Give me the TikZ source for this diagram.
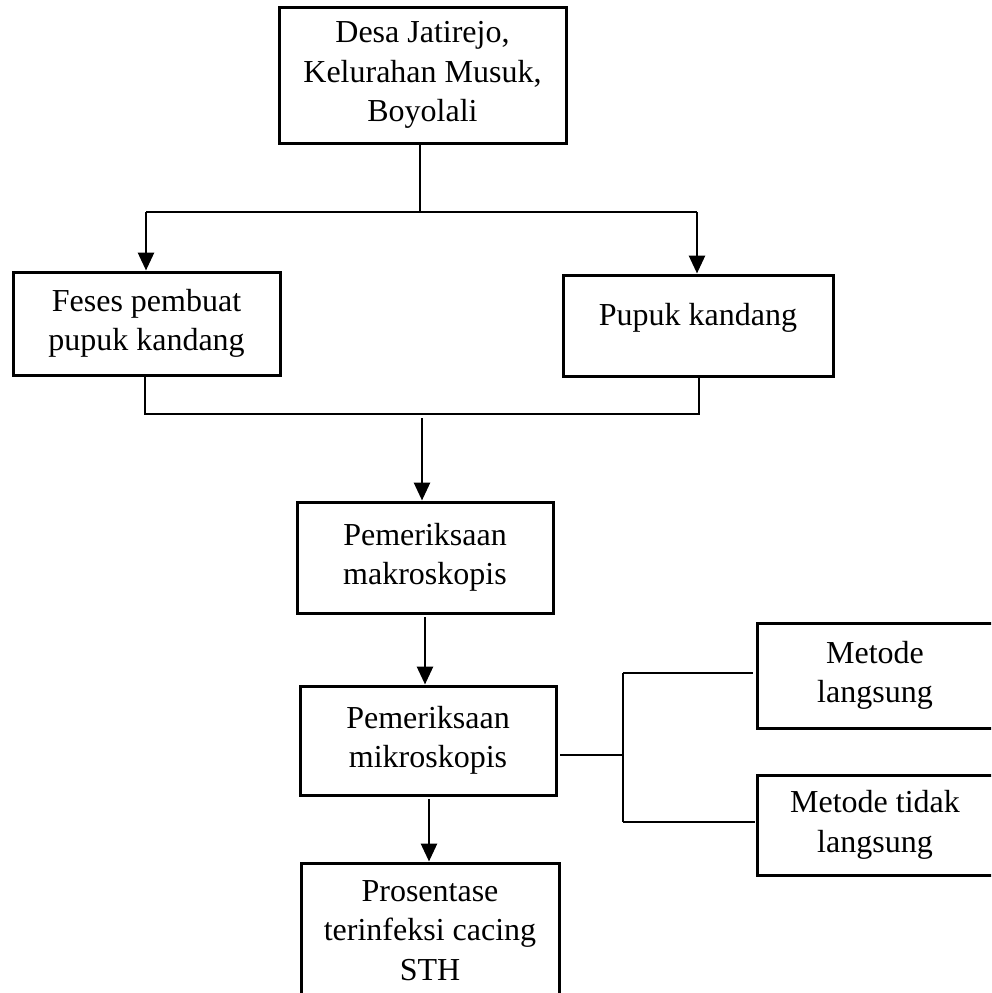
\documentclass[tikz,border=0pt]{standalone}
\usepackage{fontspec}
\setmainfont{Liberation Serif}
\usetikzlibrary{arrows.meta}
\begin{document}
\begin{tikzpicture}[x=1pt,y=-1pt,
  box/.style={draw,line width=3pt,inner sep=0pt,align=center,
    font=\fontsize{32}{39.5}\selectfont},
  conn/.style={line width=1.8pt},
  arr/.style={line width=2.8pt,-{Triangle[length=18pt,width=16pt]}}]
\useasboundingbox (0,0) rectangle (991,993);
\clip (0,0) rectangle (991,993);
% boxes
\node[box,minimum width=287pt,minimum height=136pt] (top) at (422.5,75) {Desa Jatirejo,\\Kelurahan Musuk,\\Boyolali};
\node[box,minimum width=267pt,minimum height=103pt] (left) at (146.5,323.5) {Feses pembuat\\pupuk kandang};
\node[box,minimum width=270pt,minimum height=101pt,text height=20pt,text depth=20pt] (right) at (698,325.5) {Pupuk kandang};
\node[box,minimum width=256pt,minimum height=111pt] (makro) at (425,557.5) {Pemeriksaan\\makroskopis};
\node[box,minimum width=256pt,minimum height=109pt] (mikro) at (428,740.5) {Pemeriksaan\\mikroskopis};
\node[box,minimum width=258pt,minimum height=135pt] (prosen) at (430,930.5) {Prosentase\\terinfeksi cacing\\STH};
\node[box,minimum width=236pt,minimum height=105pt] (langsung) at (875,675.5) {Metode\\langsung};
\node[box,minimum width=236pt,minimum height=100pt] (tidak) at (875,825) {Metode tidak\\langsung};
% junction coordinates
\coordinate (j1) at (420,212);
\coordinate (j1l) at (146,212);
\coordinate (j1r) at (697,212);
\coordinate (j2l) at (145,414);
\coordinate (j2r) at (699,414);
\coordinate (j2a) at (422,418);
\coordinate (a2) at (425,617);
\coordinate (a3) at (429,799);
\coordinate (m0) at (560,755);
\coordinate (m1) at (623,755);
\coordinate (mt) at (623,673);
\coordinate (mb) at (623,822);
\coordinate (mte) at (753,673);
\coordinate (mbe) at (755,822);
% connectors
\draw[conn] (top.south -| j1) -- (j1);
\draw[conn] (j1l) -- (j1r);
\draw[arr] (j1l) -- (left.north -| j1l);
\draw[arr] (j1r) -- (right.north -| j1r);
\draw[conn] (left.south -| j2l) -- (j2l) -- (j2r) -- (right.south -| j2r);
\draw[arr] (j2a) -- (makro.north -| j2a);
\draw[arr] (a2) -- (mikro.north -| a2);
\draw[arr] (a3) -- (prosen.north -| a3);
\draw[conn] (m0) -- (m1);
\draw[conn] (mt) -- (mb);
\draw[conn] (mt) -- (mte);
\draw[conn] (mb) -- (mbe);
\end{tikzpicture}
\end{document}
